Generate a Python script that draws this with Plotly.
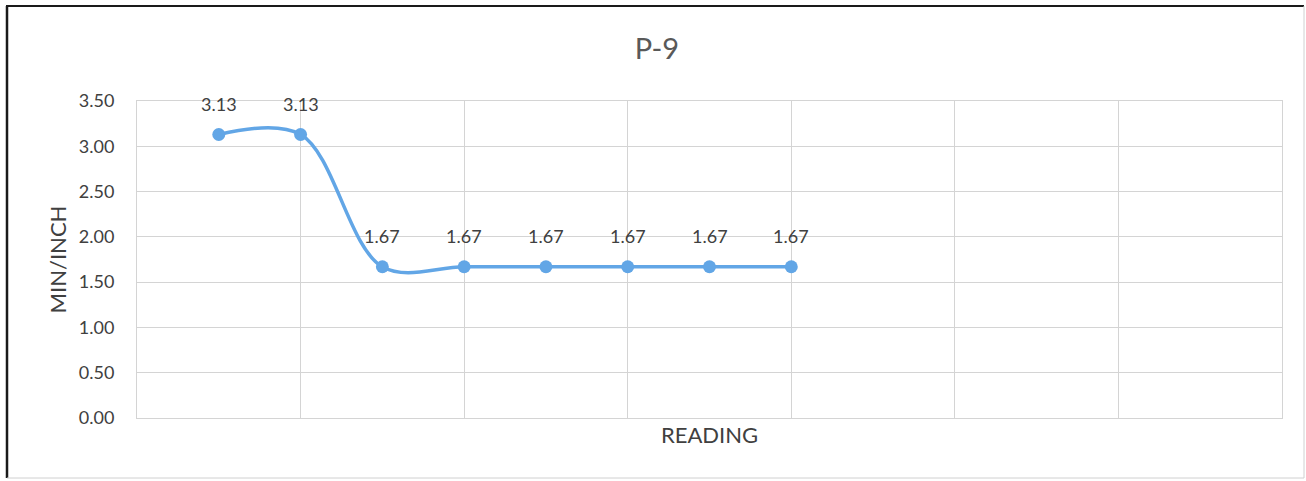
import plotly.graph_objects as go

# Readings (x position on the value axis) and measured rate
readings = [1, 2, 3, 4, 5, 6, 7, 8]
min_per_inch = [3.13, 3.13, 1.67, 1.67, 1.67, 1.67, 1.67, 1.67]
value_labels = ["3.13", "3.13", "1.67", "1.67", "1.67", "1.67", "1.67", "1.67"]
y_ticks = [0.0, 0.5, 1.0, 1.5, 2.0, 2.5, 3.0, 3.5]
y_tick_text = ["0.00", "0.50", "1.00", "1.50", "2.00", "2.50", "3.00", "3.50"]

W, H = 1306, 481
L, R, T, B = 137, 24, 101, 63
pw, ph = W - L - R, H - T - B

line_color = "#62A6E6"
text_color = "#404040"
grid_color = "#D4D4D4"
font_family = "Lato, 'Open Sans', sans-serif"

fig = go.Figure()
fig.add_trace(go.Scatter(
    x=readings, y=min_per_inch,
    mode="lines+markers",
    line=dict(color=line_color, width=3.5, shape="spline", smoothing=1.0),
    marker=dict(color=line_color, size=13),
    hoverinfo="skip",
    showlegend=False,
))

# value labels above each point
for xv, yv, lab in zip(readings, min_per_inch, value_labels):
    fig.add_annotation(x=xv, y=yv, text=lab, showarrow=False, yshift=31,
                       font=dict(size=18, color=text_color, family=font_family))

# outer chart frame
def px_x(p):
    return (p - L) / pw

def px_y(p):
    return 1 - (p - T) / ph

frame = [
    (6, 6, 1304, 6, "#1a1a1a", 2),
    (7, 6, 7, 478, "#1a1a1a", 2.5),
    (1304, 6, 1304, 478, "#d0d0d0", 1),
    (7, 478, 1304, 478, "#d0d0d0", 1),
]
for x0, y0, x1, y1, c, w in frame:
    fig.add_shape(type="line", xref="paper", yref="paper",
                  x0=px_x(x0), y0=px_y(y0), x1=px_x(x1), y1=px_y(y1),
                  line=dict(color=c, width=w))

fig.update_layout(
    width=W, height=H,
    margin=dict(l=L, r=R, t=T, b=B),
    paper_bgcolor="white", plot_bgcolor="white",
    font=dict(family=font_family, color=text_color, size=18),
    title=dict(text="P-9", x=0.503, xanchor="center", y=1 - 49 / H, yanchor="middle",
               font=dict(size=29, color="#595959", family=font_family)),
    xaxis=dict(range=[0, 14], dtick=2, tick0=0, showticklabels=False,
               showgrid=True, gridcolor=grid_color, gridwidth=1,
               zeroline=False, showline=True, linecolor=grid_color, mirror=True,
               title=dict(text="READING", standoff=9,
                          font=dict(size=22, color=text_color, family=font_family))),
    yaxis=dict(range=[0, 3.5], tickvals=y_ticks, ticktext=y_tick_text,
               showgrid=True, gridcolor=grid_color, gridwidth=1,
               zeroline=False, showline=True, linecolor=grid_color, mirror=True,
               ticklabelstandoff=18, tickfont=dict(size=18, color=text_color),
               title=dict(text="MIN/INCH", standoff=6,
                          font=dict(size=22, color=text_color, family=font_family))),
)

fig.write_html("out.html")
